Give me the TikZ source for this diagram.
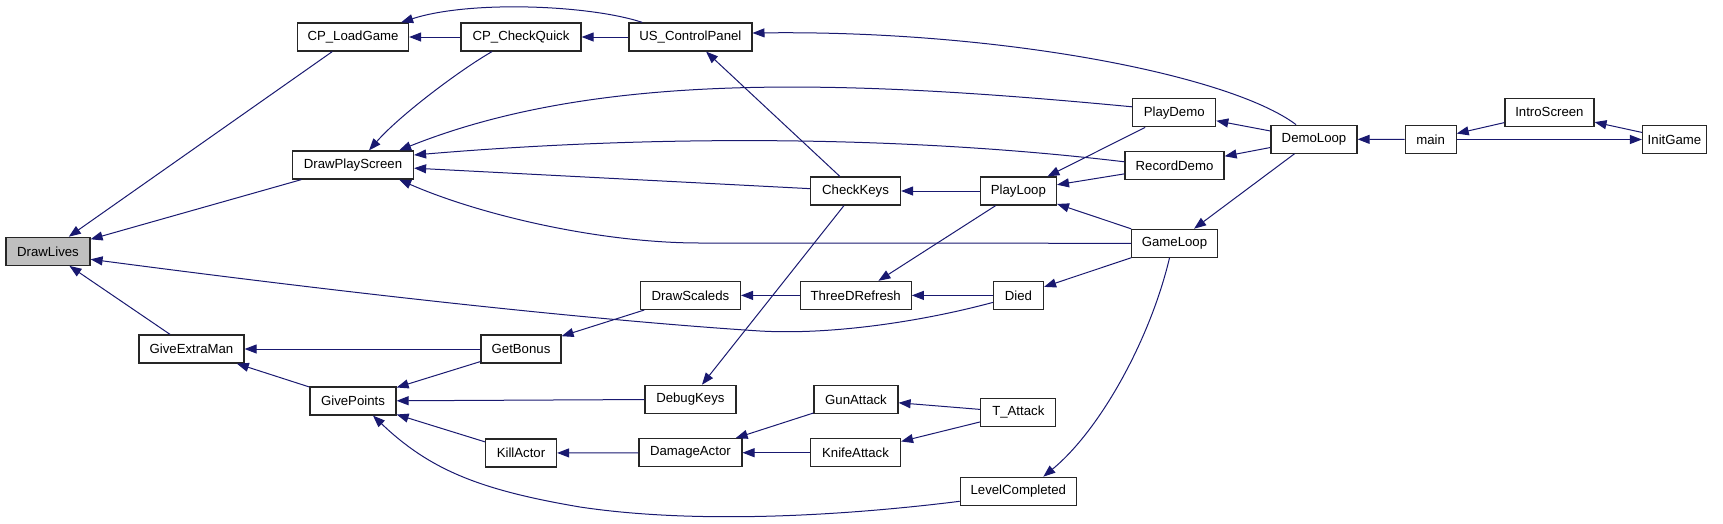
\documentclass[tikz,border=0pt]{standalone}
\usepackage{fontspec}
\setmainfont{Liberation Sans}
\usetikzlibrary{arrows.meta}
\definecolor{edgeblue}{HTML}{191970}
\definecolor{hilite}{HTML}{BFBFBF}
\tikzset{
  fn/.style={draw=black!85, line width=1.2pt, fill=white, rectangle, inner sep=0pt,
    minimum height=28pt, font=\fontsize{13.2}{15}\selectfont},
  e/.style={draw=edgeblue, line width=1pt,
    {Triangle[length=12pt,width=9pt,fill=edgeblue]}-},
  ef/.style={draw=edgeblue, line width=1pt,
    -{Triangle[length=12pt,width=9pt,fill=edgeblue]}},
}
\begin{document}
\begin{tikzpicture}[x=1pt,y=-1pt]
\useasboundingbox (0,0) rectangle (1723,523);
% nodes
\node[fn, fill=hilite, minimum width=84pt] (DrawLives) at (48,251.3) {DrawLives};
\node[fn, minimum width=111pt] (CPLoad) at (353,37) {CP\_LoadGame};
\node[fn, minimum width=120pt] (CPQuick) at (521,37) {CP\_CheckQuick};
\node[fn, minimum width=123pt] (USCP) at (690.4,37) {US\_ControlPanel};
\node[fn, minimum width=121pt] (DPS) at (353,165) {DrawPlayScreen};
\node[fn, minimum width=105pt] (GEM) at (191.5,349) {GiveExtraMan};
\node[fn, minimum width=80pt] (GetBonus) at (521,349) {GetBonus};
\node[fn, minimum width=86pt] (GivePoints) at (353,401) {GivePoints};
\node[fn, minimum width=71pt] (KillActor) at (521,453) {KillActor};
\node[fn, minimum width=90pt] (CheckKeys) at (855.5,191) {CheckKeys};
\node[fn, minimum width=76pt] (PlayLoop) at (1018.4,191) {PlayLoop};
\node[fn, minimum width=100pt] (DrawScaleds) at (690.4,295.4) {DrawScaleds};
\node[fn, minimum width=111pt] (ThreeD) at (855.7,295.4) {ThreeDRefresh};
\node[fn, minimum width=50pt] (Died) at (1018.5,295.4) {Died};
\node[fn, minimum width=91pt] (DebugKeys) at (690.4,399.3) {DebugKeys};
\node[fn, minimum width=84pt] (GunAttack) at (856,399.3) {GunAttack};
\node[fn, minimum width=75pt] (TAttack) at (1018.3,412.5) {T\_Attack};
\node[fn, minimum width=103pt] (DamageActor) at (690.4,452.7) {DamageActor};
\node[fn, minimum width=90pt] (KnifeAttack) at (855.5,452.7) {KnifeAttack};
\node[fn, minimum width=116pt] (LevelCompleted) at (1018.3,491.3) {LevelCompleted};
\node[fn, minimum width=83pt] (PlayDemo) at (1174.2,112.8) {PlayDemo};
\node[fn, minimum width=99pt] (RecordDemo) at (1174.5,165.8) {RecordDemo};
\node[fn, minimum width=85.5pt] (GameLoop) at (1174.5,243.3) {GameLoop};
\node[fn, minimum width=86pt] (DemoLoop) at (1314,139.2) {DemoLoop};
\node[fn, minimum width=51pt] (main) at (1430.6,139.5) {main};
\node[fn, minimum width=89pt] (IntroScreen) at (1549.4,112.3) {IntroScreen};
\node[fn, minimum width=64pt] (InitGame) at (1674.5,139.5) {InitGame};
% straight edges (arrow at callee = first node)
\draw[e] (DrawLives) -- (CPLoad);
\draw[e] (DrawLives) -- (DPS);
\draw[e] (DrawLives) -- (GEM);
\draw[e] (CPLoad) -- (CPQuick);
\draw[e] (CPQuick) -- (USCP);
\draw[e] (USCP) -- (CheckKeys);
\draw[e] (DPS) -- (CheckKeys);
\draw[e] (CheckKeys) -- (PlayLoop);
\draw[e] (PlayLoop) -- (PlayDemo);
\draw[e] (PlayLoop) -- (RecordDemo);
\draw[e] (PlayLoop) -- (GameLoop);
\draw[e] (PlayDemo) -- (DemoLoop);
\draw[e] (RecordDemo) -- (DemoLoop);
\draw[e] (GameLoop) -- (DemoLoop);
\draw[e] (DemoLoop) -- (main);
\draw[e] (main) -- (IntroScreen);
\draw[e] (IntroScreen) -- (InitGame);
\draw[ef] (main) -- (InitGame);
\draw[e] (ThreeD) -- (PlayLoop);
\draw[e] (DrawScaleds) -- (ThreeD);
\draw[e] (ThreeD) -- (Died);
\draw[e] (Died) -- (GameLoop);
\draw[e] (GetBonus) -- (DrawScaleds);
\draw[e] (GEM) -- (GetBonus);
\draw[e] (GEM) -- (GivePoints);
\draw[e] (GivePoints) -- (GetBonus);
\draw[e] (GivePoints) -- (DebugKeys);
\draw[e] (GivePoints) -- (KillActor);
\draw[e] (DebugKeys) -- (CheckKeys);
\draw[e] (KillActor) -- (DamageActor);
\draw[e] (DamageActor) -- (GunAttack);
\draw[e] (DamageActor) -- (KnifeAttack);
\draw[e] (GunAttack) -- (TAttack);
\draw[e] (KnifeAttack) -- (TAttack);
% curved edges
\draw[e] ([xshift=-8pt]CPLoad.north east) .. controls (470,0) and (590,5) .. ([xshift=14pt]USCP.north west);
\draw[e] ([yshift=4pt]USCP.east) .. controls (1000,30) and (1230,75) .. ([xshift=-18pt]DemoLoop.north);
\draw[e] ([xshift=16pt]DPS.north) .. controls (400,115) and (460,70) .. ([xshift=-29pt]CPQuick.south);
\draw[e] ([xshift=-15pt]DPS.north east) .. controls (600,70) and (850,80) .. ([yshift=6pt]PlayDemo.west);
\draw[e] ([yshift=10pt]DPS.east) .. controls (650,135) and (900,135) .. ([yshift=4pt]RecordDemo.west);
\draw[e] ([xshift=-15pt]DPS.south east) .. controls (480,215) and (600,243) .. (700,243) -- (GameLoop.west);
\draw[e] ([yshift=-8pt]DrawLives.east) .. controls (400,300) and (620,322) .. (760,331) .. controls (830,335) and (920,322) .. ([yshift=-7pt]Died.west);
\draw[e] ([xshift=20pt]GivePoints.south) .. controls (430,470) and (480,490) .. (580,507) .. controls (700,525) and (850,515) .. ([yshift=-10pt]LevelCompleted.west);
\draw[e] ([xshift=25pt]LevelCompleted.north) .. controls (1100,430) and (1150,340) .. ([xshift=-5pt]GameLoop.south);
\end{tikzpicture}
\end{document}
